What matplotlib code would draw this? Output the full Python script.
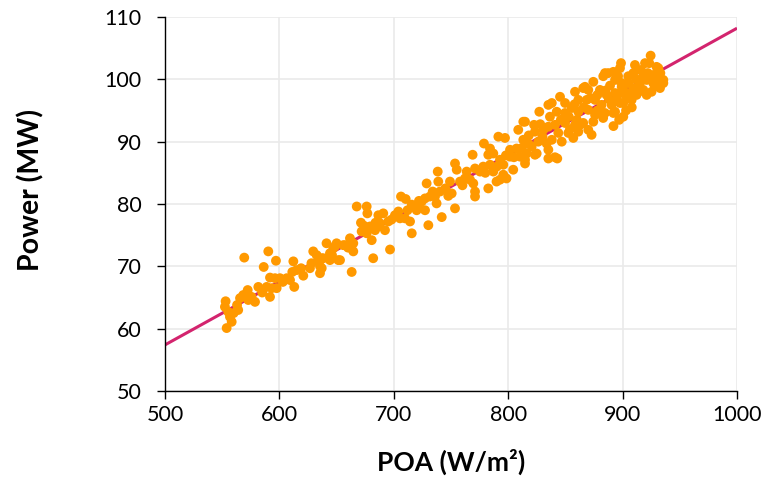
import matplotlib
matplotlib.use("Agg")
import matplotlib.pyplot as plt
import numpy as np

plt.rcParams['font.family'] = ['Lato', 'DejaVu Sans']

# POA (W/m²) and Power (MW) values
poa = [
    569.3, 590.3, 597.0, 586.3, 553.0, 552.4, 555.3, 553.9, 558.3, 556.8,
    564.0, 565.6, 568.4, 572.3, 572.8, 575.7, 578.7, 581.6, 588.9, 593.3,
    591.8, 596.2, 591.8, 597.6, 600.5, 606.4, 611.3, 613.0, 612.2, 663.2,
    620.9, 626.7, 629.6, 632.6, 635.5, 635.5, 641.2, 638.4, 644.2, 648.6,
    651.5, 655.8, 664.6, 664.6,
    667.6, 676.3, 676.9, 686.5, 671.3, 671.9, 676.3, 680.7, 683.6, 661.7,
    657.3, 663.2, 650.0, 647.1, 653.0, 682.0, 644.2, 637.0, 634.0, 637.0,
    615.1, 609.3, 686.5, 679.2, 696.7,
    753.5, 755.0, 738.4, 738.9, 728.7, 749.1, 757.9, 750.6, 740.4, 736.0,
    731.6, 727.3, 724.4, 721.4, 737.4, 753.5, 741.9, 730.2, 727.3, 720.0,
    715.7, 706.3, 710.4, 704.0, 705.4, 709.8, 701.0, 695.2, 690.8, 688.0,
    692.3, 715.7, 714.2, 747.6,
    827.2, 835.1, 814.7, 808.8, 822.6, 823.4, 830.7, 791.4, 797.2, 778.8,
    813.2, 817.6, 820.5, 826.3, 833.6, 824.9, 835.1, 816.1, 807.3, 801.6,
    801.6, 810.3, 814.7, 784.1, 787.0, 782.6, 792.8, 795.7, 768.9, 771.0,
    778.2, 784.1, 775.4, 787.0, 795.7, 804.4, 798.5, 792.8, 763.7, 762.2,
    766.6, 769.5, 782.6, 771.0, 771.0, 789.8, 842.9, 823.4, 814.7, 813.2,
    898.6, 897.7, 891.9, 887.5, 883.1, 874.4, 893.4, 899.2, 880.2, 870.0,
    865.6, 858.4, 886.0, 893.4, 900.6, 875.9, 868.6, 861.3, 849.7, 838.1,
    845.3, 881.6, 890.4, 897.7, 870.0, 861.3, 855.5, 849.7, 842.4, 836.5,
    875.9, 884.6, 893.4, 900.6, 874.4, 865.6, 858.4, 849.7, 840.9, 835.1,
    843.8, 852.6, 861.3, 870.0, 838.1, 846.8, 856.9, 835.1, 840.9, 892.0,
    884.6, 867.1, 862.8, 872.9, 891.9,
    924.5, 923.3, 910.8, 919.6, 909.4, 929.7, 926.8, 934.2, 935.6, 932.7,
    918.1, 921.0, 926.8, 915.2, 905.0, 909.4, 900.6, 918.1, 925.3, 903.5,
    912.2, 921.0, 900.6, 907.9, 899.2, 931.2, 935.6,
    905.0, 912.0, 916.0, 922.0, 928.0, 930.0, 933.0, 914.0, 906.0, 896.0,
    889.0, 885.0, 878.0, 872.0, 866.0, 858.0, 853.0, 846.0, 878.0, 888.0,
    895.0, 903.0, 908.0, 897.0, 883.0, 860.0, 854.0, 830.0, 828.0, 818.0,
    812.0, 805.0, 798.0, 790.0, 780.0, 760.0, 745.0, 734.0, 722.0, 712.0,
    698.0, 684.0, 674.0, 660.0, 646.0, 628.0, 619.0, 603.0, 585.0, 563.0,
    560.0,
]
power = [
    71.4, 72.4, 70.9, 69.9, 64.4, 63.5, 62.7, 60.1, 61.1, 61.9,
    63.0, 64.9, 65.4, 66.2, 64.6, 65.1, 64.3, 66.7, 66.7, 66.5,
    65.1, 68.1, 68.2, 66.5, 68.1, 68.1, 69.1, 66.7, 70.8, 69.1,
    68.5, 69.7, 72.4, 71.8, 70.0, 68.9, 73.7, 71.3, 71.0, 73.2,
    71.0, 73.4, 72.4, 73.7,
    79.6, 79.6, 78.5, 78.2, 77.0, 75.6, 75.3, 74.2, 75.8, 74.5,
    73.4, 73.4, 73.7, 72.9, 71.0, 71.3, 72.1, 71.3, 70.8, 69.7,
    69.4, 67.8, 76.4, 76.4, 72.7,
    86.5, 85.5, 85.2, 83.6, 83.3, 83.6, 83.6, 81.7, 82.0, 81.2,
    81.2, 80.9, 80.4, 79.9, 80.1, 79.3, 77.9, 76.6, 79.0, 79.0,
    79.9, 81.2, 80.8, 78.8, 77.7, 77.7, 78.2, 77.2, 78.5, 76.9,
    75.8, 75.3, 77.2, 81.3,
    94.8, 95.9, 93.2, 91.9, 92.7, 91.6, 91.9, 90.8, 90.6, 89.7,
    90.3, 89.7, 89.2, 90.0, 89.7, 88.1, 87.3, 88.1, 88.9, 88.7,
    87.6, 87.6, 87.1, 88.9, 88.1, 87.9, 87.1, 86.3, 87.9, 85.7,
    86.0, 86.3, 85.2, 85.2, 84.7, 85.5, 84.1, 83.9, 85.2, 84.1,
    83.9, 83.3, 82.5, 82.0, 81.2, 83.6, 87.3, 87.9, 86.5, 93.2,
    102.6, 101.8, 101.2, 101.0, 100.5, 99.6, 99.9, 98.8, 98.3, 98.3,
    98.6, 98.0, 97.5, 97.8, 97.8, 96.7, 96.7, 96.7, 96.2, 96.2,
    97.2, 95.9, 95.9, 96.2, 95.1, 94.8, 95.4, 94.6, 94.8, 94.0,
    94.3, 94.6, 94.8, 94.0, 93.2, 93.0, 92.7, 93.0, 92.7, 92.4,
    91.4, 91.4, 91.6, 91.9, 90.3, 90.0, 90.6, 88.7, 87.5, 92.5,
    101.0, 98.8, 92.7, 91.1, 94.6,
    103.8, 102.6, 102.3, 102.6, 101.0, 102.0, 100.7, 99.9, 99.4, 98.6,
    100.7, 99.9, 99.4, 99.4, 99.4, 98.6, 98.3, 98.3, 98.0, 97.2,
    97.5, 97.5, 96.2, 96.7, 99.4, 101.8, 99.9,
    100.5, 100.0, 101.5, 101.0, 99.0, 100.5, 101.0, 98.0, 97.8, 100.5,
    99.0, 98.2, 97.5, 97.0, 95.5, 96.0, 94.0, 93.5, 95.0, 96.8,
    97.0, 95.0, 95.5, 93.5, 93.8, 93.5, 92.0, 90.8, 92.8, 91.0,
    89.0, 87.5, 87.8, 86.0, 85.0, 83.0, 82.5, 82.0, 80.5, 79.0,
    77.5, 77.0, 76.5, 73.0, 71.8, 70.5, 69.7, 67.5, 65.8, 63.8,
    62.5,
]

# Linear trendline
fit_slope = 0.1016
fit_intercept = 6.6

x_ticks = [500, 600, 700, 800, 900, 1000]
y_ticks = [50, 60, 70, 80, 90, 100, 110]

fig = plt.figure(figsize=(7.67, 4.84), dpi=100)
ax = fig.add_axes([0.2151, 0.1921, 0.9609 - 0.2151, 0.9649 - 0.1921])

xl = np.array([x_ticks[0], x_ticks[-1]], dtype=float)
ax.plot(xl, fit_slope * xl + fit_intercept, color='#D3246E', lw=2.2,
        zorder=2, solid_capstyle='butt')
ax.scatter(poa, power, s=50, color='#FF9900', edgecolors='none', zorder=3)

ax.set_xlim(x_ticks[0], x_ticks[-1])
ax.set_ylim(y_ticks[0], y_ticks[-1])
ax.set_xticks(x_ticks)
ax.set_yticks(y_ticks)
ax.grid(True, color='#EAEAEA', lw=1.2, zorder=0)
ax.set_axisbelow(True)
for s in ['top', 'right']:
    ax.spines[s].set_visible(False)
for s in ['left', 'bottom']:
    ax.spines[s].set_color('black')
    ax.spines[s].set_linewidth(1.0)
ax.tick_params(axis='both', direction='out', length=6, width=1.0,
               labelsize=15.5, colors='black')
ax.tick_params(axis='y', pad=11)
ax.tick_params(axis='x', pad=4)

ax.set_xlabel('POA (W/m²)', fontsize=19, fontweight='bold', labelpad=17)
ax.set_ylabel('Power (MW)', fontsize=20.5, fontweight='bold')
ax.yaxis.set_label_coords(-0.21, 0.537)

fig.savefig('out.png', dpi=100)
